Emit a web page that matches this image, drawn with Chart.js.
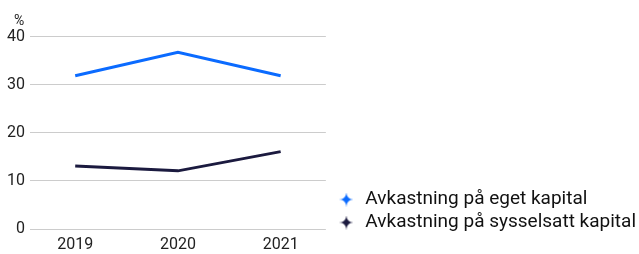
<!DOCTYPE html>
<html>
<head>
<meta charset="utf-8">
<script src="https://cdn.jsdelivr.net/npm/chart.js@4"></script>
<style>
  body { margin: 0; background: #fff; }
  #wrap { width: 639px; height: 254px; }
</style>
</head>
<body>
<div id="wrap"><canvas id="chart"></canvas></div>
<script>
const years = ['2019', '2020', '2021'];
const egetKapital = [31.9, 36.8, 31.9];
const sysselsattKapital = [13.1, 12.1, 16.1];
const yTicks = [0, 10, 20, 30, 40];

// little four-point star used as legend marker
function sparkle(color) {
    const c = document.createElement('canvas');
    c.width = 14; c.height = 14;
    const g = c.getContext('2d');
    const m = 7, r = 7, k = 1.6;
    g.fillStyle = color;
    g.beginPath();
    g.moveTo(m, m - r);
    g.quadraticCurveTo(m + k * 0.3, m - k * 0.3, m + r, m);
    g.quadraticCurveTo(m + k * 0.3, m + k * 0.3, m, m + r);
    g.quadraticCurveTo(m - k * 0.3, m + k * 0.3, m - r, m);
    g.quadraticCurveTo(m - k * 0.3, m - k * 0.3, m, m - r);
    g.fill();
    return c;
}

const blue = '#0b6bff';
const navy = '#1b1a3f';

// nudge legend and the "%" title into place
const nudge = {
    id: 'nudge',
    afterLayout(chart) {
        if (chart.legend) {
            chart.legend.bottom -= 18;
            chart.legend.left += 7;
            chart.legend.right += 7;
        }
        if (chart.titleBlock) {
            chart.titleBlock.left += 14;
        }
    }
};

new Chart(document.getElementById('chart'), {
    type: 'line',
    data: {
        datasets: [
            {
                label: 'Avkastning på eget kapital',
                data: egetKapital.map((v, i) => ({ x: i, y: v })),
                borderColor: blue,
                backgroundColor: blue,
                borderWidth: 3,
                pointRadius: 0,
                pointStyle: sparkle(blue)
            },
            {
                label: 'Avkastning på sysselsatt kapital',
                data: sysselsattKapital.map((v, i) => ({ x: i, y: v })),
                borderColor: navy,
                backgroundColor: navy,
                borderWidth: 3,
                pointRadius: 0,
                pointStyle: sparkle(navy)
            }
        ]
    },
    plugins: [nudge],
    options: {
        responsive: true,
        maintainAspectRatio: false,
        animation: false,
        layout: { padding: 0 },
        scales: {
            x: {
                type: 'linear',
                min: -0.44,
                max: 2.44,
                afterBuildTicks: axis => { axis.ticks = years.map((_, i) => ({ value: i })); },
                afterFit: axis => { axis.height = 25; },
                grid: { display: false, drawTicks: false },
                border: { display: false },
                ticks: {
                    callback: v => years[v],
                    color: '#222',
                    font: { family: 'Roboto', size: 16 },
                    padding: 6,
                    maxRotation: 0
                }
            },
            y: {
                min: 0,
                max: 40,
                afterBuildTicks: axis => { axis.ticks = yTicks.map(v => ({ value: v })); },
                afterFit: axis => { axis.width = 30; },
                grid: { color: '#cccccc', drawTicks: false },
                border: { display: false },
                ticks: {
                    color: '#222',
                    font: { family: 'Roboto', size: 16 },
                    padding: 5
                }
            }
        },
        plugins: {
            title: {
                display: true,
                text: '%',
                align: 'start',
                color: '#222',
                font: { family: 'Roboto', size: 14, weight: 'normal' },
                padding: { top: 13, bottom: 7 }
            },
            legend: {
                position: 'right',
                align: 'end',
                maxWidth: 340,
                labels: {
                    usePointStyle: true,
                    color: '#111',
                    font: { family: 'Roboto', size: 19 },
                    padding: 4
                }
            },
            tooltip: { enabled: false }
        }
    }
});
</script>
</body>
</html>
